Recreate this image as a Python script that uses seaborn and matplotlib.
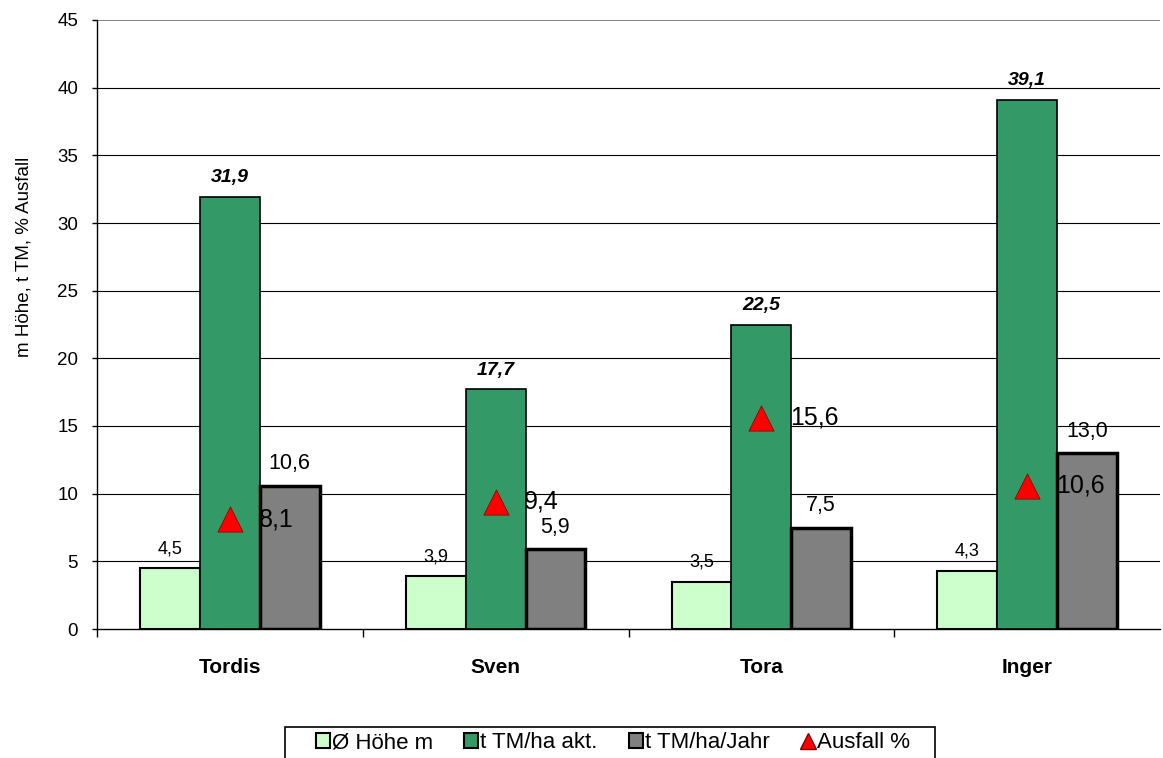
import matplotlib
matplotlib.use("Agg")
import matplotlib.pyplot as plt
import seaborn as sns
import pandas as pd
import numpy as np
from matplotlib.lines import Line2D
from matplotlib.patches import Patch, Rectangle

categories = ["Tordis", "Sven", "Tora", "Inger"]
hoehe = [4.5, 3.9, 3.5, 4.3]
tm_akt = [31.9, 17.7, 22.5, 39.1]
tm_jahr = [10.6, 5.9, 7.5, 13.0]
ausfall = [8.1, 9.4, 15.6, 10.6]
series_names = ["Ø Höhe m", "t TM/ha akt.", "t TM/ha/Jahr"]
colors = ["#CCFFCC", "#339966", "#808080"]

sns.set_theme(style="white")
plt.rcParams['font.family'] = ['Liberation Sans', 'DejaVu Sans']
plt.rcParams.update({"text.color": "black", "axes.labelcolor": "black",
                     "xtick.color": "black", "ytick.color": "black"})

rows = []
for i, c in enumerate(categories):
    for name, vals in zip(series_names, [hoehe, tm_akt, tm_jahr]):
        rows.append({"cat": c, "series": name, "val": vals[i]})
df = pd.DataFrame(rows)

W, H = 1163, 758
fig = plt.figure(figsize=(W / 100, H / 100), dpi=100)
ax = fig.add_axes([97 / W, 1 - 629 / H, (1160 - 97) / W, (629 - 20) / H])

sns.barplot(data=df, x="cat", y="val", hue="series", palette=colors,
            width=0.675, ax=ax, legend=False, saturation=1)

containers = ax.containers
lws = [1.5, 1.2, 2.5]
for cont, lw in zip(containers, lws):
    for p in cont:
        p.set_edgecolor("black")
        p.set_linewidth(lw)
        p.set_zorder(3)

# value labels
for idx, cont in enumerate(containers):
    for p, v in zip(cont, [hoehe, tm_akt, tm_jahr][idx]):
        x = p.get_x() + p.get_width() / 2
        txt = f"{v:.1f}".replace(".", ",")
        if idx == 0:
            ax.text(x, v + 1.1, txt, ha="center", va="baseline", fontsize=13, zorder=5)
        elif idx == 1:
            ax.text(x, v + 1.1, txt, ha="center", va="baseline", fontsize=14,
                    fontweight="bold", fontstyle="italic", zorder=5)
        else:
            ax.text(x, v + 1.2, txt, ha="center", va="baseline", fontsize=15.5, zorder=5)

# triangles
xs = np.arange(len(categories))
ax.scatter(xs, ausfall, marker="^", s=330, color="#FF0000", edgecolor="#800000",
           linewidth=0.5, zorder=6)
for x, v in zip(xs, ausfall):
    ax.text(x + 0.108, v, f"{v:.1f}".replace(".", ","), ha="left", va="center",
            fontsize=18, zorder=5)

ax.set_ylim(0, 45)
ax.set_xlim(-0.5, 3.5)
ax.set_yticks(range(0, 46, 5))
ax.tick_params(axis="y", labelsize=13.5, length=3.6, width=1, color="black", left=True, pad=10)
for y in range(5, 41, 5):
    ax.axhline(y, color="black", linewidth=0.8, zorder=1)
ax.axhline(45, color="#808080", linewidth=1.4, zorder=1)

ax.set_xticks(xs)
ax.set_xticklabels(categories, fontsize=15, fontweight="bold")
ax.tick_params(axis="x", length=0, pad=21)
ax.set_xticks([-0.5, 0.5, 1.5, 2.5], minor=True)
ax.tick_params(axis="x", which="minor", length=6, width=1, color="black", bottom=True)

ax.set_xlabel("")
ax.set_ylabel("")
fig.text(24 / W, 1 - 257 / H, "m Höhe, t TM, % Ausfall", rotation=90,
         ha="center", va="center", fontsize=13.5)

for s in ["top", "right"]:
    ax.spines[s].set_visible(False)
for s in ["left", "bottom"]:
    ax.spines[s].set_color("black")
    ax.spines[s].set_linewidth(1)

# legend box
fig.patches.append(Rectangle((285 / W, -0.05), 650 / W, (758 - 727) / H + 0.05,
                             transform=fig.transFigure, facecolor="white",
                             edgecolor="black", linewidth=1.2, zorder=0))

handles = [Patch(facecolor=colors[i], edgecolor="black", linewidth=1.5) for i in range(3)]
handles.append(Line2D([0], [0], marker="^", color="none", markerfacecolor="#FF0000",
                      markeredgecolor="#800000", markersize=11))
leg = fig.legend(handles, series_names + ["Ausfall %"], loc="center",
                 bbox_to_anchor=(613 / W, 1 - 743 / H), ncol=4, fontsize=16,
                 frameon=False,
                 handlelength=0.63, handleheight=0.63, handletextpad=0.1,
                 columnspacing=1.4, borderpad=0.0, borderaxespad=0)

fig.savefig("out.png", dpi=100)
